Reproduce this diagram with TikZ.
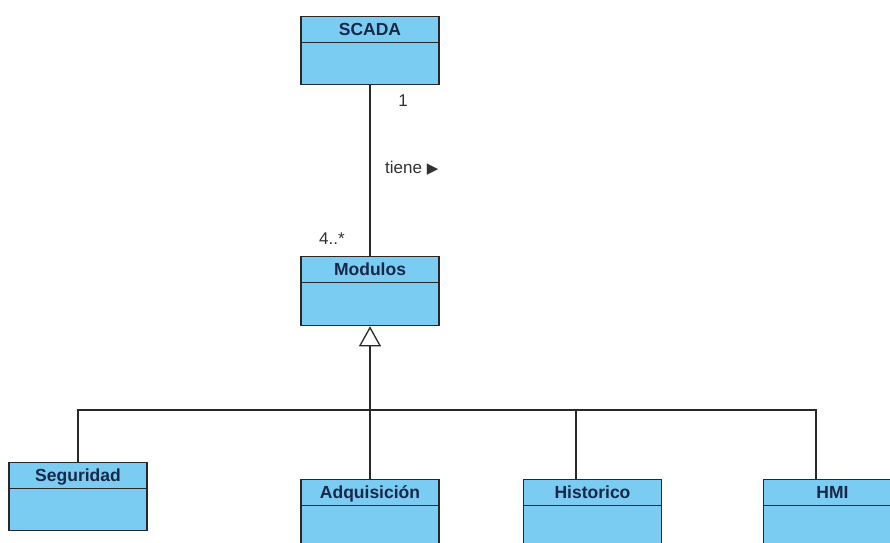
\documentclass[tikz,border=0pt]{standalone}
\usepackage{fontspec}
\setmainfont{Liberation Sans}
\newfontfamily\symfont{DejaVu Sans}
\usetikzlibrary{arrows.meta}

\definecolor{classfill}{RGB}{122,204,242}
\definecolor{linec}{RGB}{40,40,40}
\definecolor{namec}{RGB}{24,40,72}
\definecolor{labelc}{RGB}{50,50,50}

\tikzset{
  classbox/.style={draw=linec, line width=1.3pt, fill=classfill,
    minimum width=138pt, minimum height=68pt, inner sep=0pt, anchor=north,
    path picture={\draw[linec, line width=1.3pt]
      ([yshift=-26pt]path picture bounding box.north west) --
      ([yshift=-26pt]path picture bounding box.north east);}},
  classname/.style={font=\fontsize{17.5}{20}\selectfont\bfseries, text=namec,
    inner sep=0pt, text height=12.6pt, text depth=0pt, anchor=north},
  assoclabel/.style={font=\fontsize{17}{20}\selectfont, text=labelc, inner sep=0pt},
  conn/.style={draw=linec, line width=1.3pt},
  generalization/.style={conn, -{Triangle[open, length=20pt, width=22pt, line width=1.3pt]}}
}

\begin{document}
\begin{tikzpicture}[x=1pt, y=-1pt]
\useasboundingbox (0,0) rectangle (890,542);
\clip (0,0) rectangle (890,542);
\fill[white] (0,0) rectangle (890,542);

% classes
\node[classbox] (scada) at (370,16) {};
\node[classname] (scadaName) at ([yshift=-7pt]scada.north) {SCADA};

\node[classbox, minimum height=69pt] (modulos) at (370,256) {};
\node[classname] (modulosName) at ([yshift=-7pt]modulos.north) {Modulos};

\node[classbox] (seguridad) at (78,462) {};
\node[classname] (seguridadName) at ([yshift=-7pt]seguridad.north) {Seguridad};

\node[classbox] (adq) at (370,479) {};
\node[classname] (adqName) at ([yshift=-7pt]adq.north) {Adquisición};

\node[classbox] (hist) at (592.5,479) {};
\node[classname] (histName) at ([yshift=-7pt]hist.north) {Historico};

\node[classbox] (hmi) at (832.5,479) {};
\node[classname] (hmiName) at ([yshift=-7pt]hmi.north) {HMI};

% association SCADA -- Modulos
\draw[conn] (scada.south) -- (modulos.north);
\node[assoclabel] (multOne) at (403,101) {1};
\node[assoclabel] (multMany) at (332,239) {4..*};
\node[assoclabel, anchor=west] (assocName) at (385,168) {tiene {\symfont\fontsize{15}{17}\selectfont ▶}};

% generalization tree
\coordinate (bus) at (370,410);
\coordinate (histTop) at ([xshift=-16.5pt]hist.north);
\coordinate (hmiTop) at ([xshift=-16.5pt]hmi.north);
\draw[conn] (seguridad.north) |- (bus) -| (hmiTop);
\draw[conn] (histTop) -- (histTop |- bus);
\draw[generalization] (adq.north) -- (modulos.south);
\end{tikzpicture}
\end{document}
